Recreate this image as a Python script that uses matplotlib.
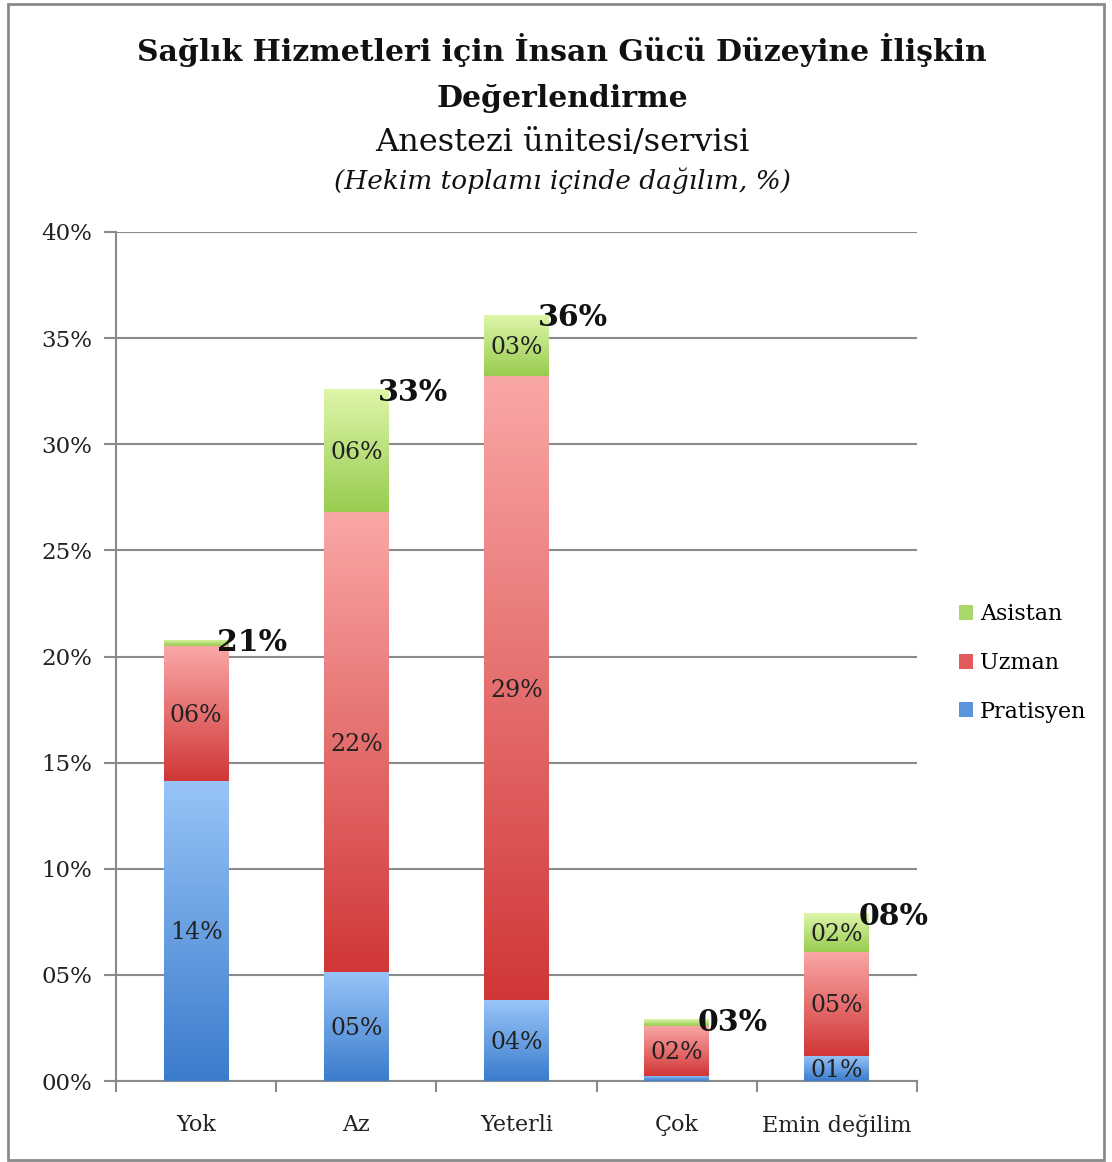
import matplotlib
matplotlib.use("Agg")
import matplotlib.pyplot as plt
import numpy as np
from matplotlib.patches import Patch, Rectangle
from matplotlib.colors import LinearSegmentedColormap
from matplotlib.ticker import FixedLocator, FuncFormatter

categories = ["Yok", "Az", "Yeterli", "Çok", "Emin değilim"]
pratisyen = [14.15, 5.14, 3.8, 0.24, 1.2]
uzman = [6.35, 21.65, 29.4, 2.36, 4.9]
asistan = [0.3, 5.8, 2.9, 0.3, 1.8]
totals = [21, 33, 36, 3, 8]
series_names = ["Pratisyen", "Uzman", "Asistan"]

title = "Sağlık Hizmetleri için İnsan Gücü Düzeyine İlişkin\nDeğerlendirme"
subtitle = "Anestezi ünitesi/servisi"
subtitle2 = "(Hekim toplamı içinde dağılım, %)"

FONT = "DejaVu Serif"
plt.rcParams["font.family"] = [FONT, "DejaVu Sans"]

# gradient (top light, bottom dark)
grad = {
    "Pratisyen": ("#98c4f8", "#3b7ccc"),
    "Uzman": ("#f9a7a6", "#d13737"),
    "Asistan": ("#def6aa", "#98cc50"),
}
legend_colors = {"Asistan": "#a8d86a", "Uzman": "#e25a5a", "Pratisyen": "#5a95dc"}

fig = plt.figure(figsize=(11.12, 11.62), dpi=100)
ax = fig.add_axes([116/1112, 1-1081/1162, (917-116)/1112, (1081-232)/1162])

x = np.arange(len(categories))
width = 0.405
bottoms = np.zeros(len(categories))
for name, vals in zip(series_names, [pratisyen, uzman, asistan]):
    top_c, bot_c = grad[name]
    cmap = LinearSegmentedColormap.from_list(name, [bot_c, top_c])
    bars = ax.bar(x, vals, width, bottom=bottoms, color=bot_c, zorder=3, linewidth=0)
    for xi, v, b, rect in zip(x, vals, bottoms, bars):
        img = np.linspace(0, 1, 100).reshape(-1, 1)
        im = ax.imshow(img, cmap=cmap, origin="lower", aspect="auto",
                       extent=[xi - width/2, xi + width/2, b, b + v], zorder=4,
                       interpolation="bicubic")
        im.set_clip_path(rect)
        if v >= 1:
            ax.text(xi, b + v/2 - 0.1, f"{int(round(v)):02d}%", ha="center", va="center",
                    fontsize=17, color="#222222", zorder=6)
    bottoms = bottoms + np.array(vals)

for xi, tot, t in zip(x, totals, bottoms):
    ax.text(xi + width/2 - 0.07, t - 0.15, f"{tot:02d}%", ha="left", va="center",
            fontsize=21.5, fontweight="bold", color="#111111", zorder=7)

ax.set_xlim(-0.5, len(categories) - 0.5)
ax.set_ylim(0, 40)
ax.yaxis.set_major_locator(FixedLocator(np.arange(0, 41, 5)))
ax.yaxis.set_major_formatter(FuncFormatter(lambda v, p: f"{int(v):02d}%"))
ax.set_xticks(x)
ax.set_xticklabels(categories)
ax.set_xticks(np.arange(-0.5, len(categories), 1), minor=True)
ax.tick_params(axis="x", which="major", length=0, pad=24, labelsize=16, colors="#222222")
ax.tick_params(axis="x", which="minor", length=8, width=1.5, color="#8a8a8a")
ax.tick_params(axis="y", which="major", length=9, width=1.5, color="#8a8a8a", pad=8,
               labelsize=16.5, labelcolor="#222222")
ax.grid(axis="y", color="#8a8a8a", linewidth=1.5, zorder=0)
ax.set_axisbelow(True)
for s in ["top", "right"]:
    ax.spines[s].set_visible(False)
for s in ["left", "bottom"]:
    ax.spines[s].set_color("#8a8a8a")
    ax.spines[s].set_linewidth(1.5)

leg_names = ["Asistan", "Uzman", "Pratisyen"]
handles = [Patch(facecolor=legend_colors[n], edgecolor="none") for n in leg_names]
fig.legend(handles, leg_names, loc="center left",
           bbox_to_anchor=(939/1112, 1-663/1162), frameon=False, fontsize=16,
           handlelength=0.65, handleheight=0.65, handletextpad=0.3, labelspacing=1.2)

fig.text(562/1112, 1-73/1162, title, ha="center", va="center", fontsize=21.5,
         fontweight="bold", linespacing=1.72, color="#111111")
fig.text(562/1112, 1-142/1162, subtitle, ha="center", va="center", fontsize=23, color="#111111")
fig.text(562/1112, 1-181/1162, subtitle2, ha="center", va="center", fontsize=19,
         fontstyle="italic", color="#111111")

fig.add_artist(Rectangle((8/1112, 1-1160/1162), (1104-8)/1112, (1160-4)/1162,
                         transform=fig.transFigure, fill=False, edgecolor="#8a8a8a", linewidth=2))

fig.savefig("out.png", dpi=100)
